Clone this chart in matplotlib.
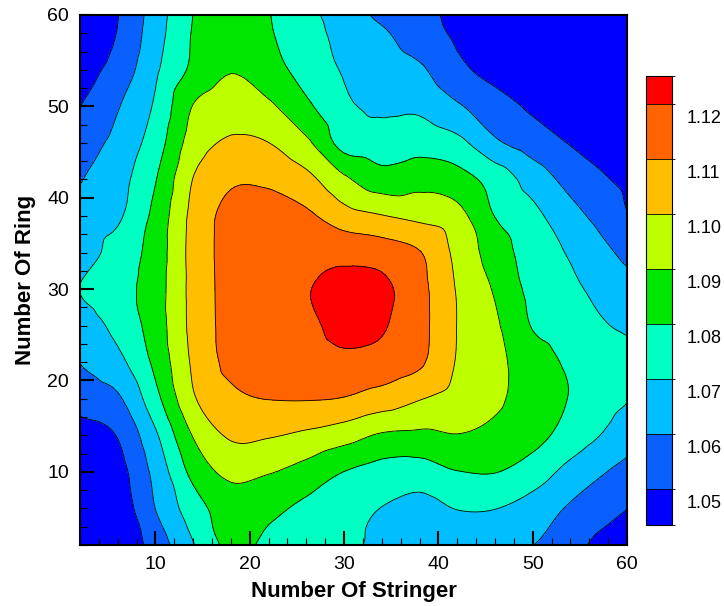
import numpy as np
import matplotlib
matplotlib.use("Agg")
import matplotlib.pyplot as plt
import matplotlib.tri as mtri
from matplotlib.colors import ListedColormap, BoundaryNorm
from matplotlib.ticker import MultipleLocator
import matplotlib.transforms as mtransforms

plt.rcParams['font.family'] = ['Liberation Sans', 'DejaVu Sans']

# grid of the design space
stringers = [2, 6, 10, 14, 18, 22, 26, 30, 34, 38, 42, 46, 50, 54, 58, 60]
rings = [2, 6, 10, 14, 18, 22, 26, 30, 34, 38, 42, 46, 50, 54, 58, 60]

# values, one list per ring count (bottom to top)
ring_02 = [1.038, 1.043, 1.0541, 1.0694, 1.0825, 1.0777, 1.0746, 1.0714, 1.0688, 1.0666, 1.0645, 1.0623, 1.0602, 1.0531, 1.0465, 1.045]
ring_06 = [1.040, 1.044, 1.0601, 1.0753, 1.0845, 1.0823, 1.0778, 1.0738, 1.0698, 1.0668, 1.0703, 1.0702, 1.0659, 1.0587, 1.0529, 1.0502]
ring_10 = [1.043, 1.0465, 1.0630, 1.0829, 1.0925, 1.0906, 1.0862, 1.0799, 1.0761, 1.0754, 1.0797, 1.0803, 1.0751, 1.0668, 1.0598, 1.0575]
ring_14 = [1.0465, 1.0505, 1.0685, 1.0906, 1.1013, 1.1008, 1.0981, 1.0942, 1.0889, 1.0880, 1.0897, 1.0874, 1.0835, 1.0757, 1.0683, 1.0635]
ring_18 = [1.0537, 1.0585, 1.0769, 1.0988, 1.1075, 1.1102, 1.1105, 1.1095, 1.1055, 1.1005, 1.0963, 1.0915, 1.0856, 1.0795, 1.0735, 1.0707]
ring_22 = [1.0603, 1.0672, 1.0824, 1.1015, 1.1125, 1.1145, 1.1160, 1.1178, 1.1165, 1.1115, 1.0993, 1.0925, 1.0847, 1.0785, 1.0752, 1.0735]
ring_26 = [1.0655, 1.0728, 1.0849, 1.1028, 1.1133, 1.1158, 1.1182, 1.1222, 1.1208, 1.1133, 1.0998, 1.0915, 1.0794, 1.0748, 1.0702, 1.0685]
ring_30 = [1.0702, 1.0760, 1.0854, 1.1030, 1.1135, 1.1160, 1.1195, 1.1228, 1.1222, 1.1130, 1.0993, 1.0890, 1.0772, 1.0719, 1.0665, 1.0640]
ring_34 = [1.0650, 1.0740, 1.0845, 1.1033, 1.1135, 1.1150, 1.1165, 1.1172, 1.1155, 1.1105, 1.0974, 1.0853, 1.0754, 1.0690, 1.0613, 1.0575]
ring_38 = [1.0640, 1.0685, 1.0829, 1.1027, 1.1132, 1.1148, 1.1118, 1.1042, 1.1005, 1.0975, 1.0935, 1.0798, 1.0727, 1.0634, 1.0555, 1.0505]
ring_42 = [1.0595, 1.0663, 1.0795, 1.1003, 1.1085, 1.1080, 1.1030, 1.0918, 1.0842, 1.0863, 1.0838, 1.0762, 1.0658, 1.0567, 1.0503, 1.0480]
ring_46 = [1.0555, 1.0630, 1.0751, 1.0945, 1.1013, 1.1001, 1.0919, 1.0763, 1.0743, 1.0762, 1.0729, 1.0617, 1.0552, 1.0495, 1.0465, 1.0450]
ring_50 = [1.0499, 1.0593, 1.0714, 1.0904, 1.0959, 1.0917, 1.0819, 1.0719, 1.0685, 1.0680, 1.0612, 1.0544, 1.0485, 1.0455, 1.0430, 1.0420]
ring_54 = [1.0465, 1.0536, 1.0684, 1.0820, 1.0895, 1.0836, 1.0766, 1.0691, 1.0653, 1.0614, 1.0524, 1.0470, 1.0445, 1.0425, 1.0410, 1.0405]
ring_58 = [1.0430, 1.0504, 1.0657, 1.0807, 1.0880, 1.0810, 1.0736, 1.0670, 1.0614, 1.0547, 1.0485, 1.0455, 1.0435, 1.0420, 1.0410, 1.0400]
ring_60 = [1.0420, 1.0497, 1.0648, 1.0801, 1.0870, 1.0804, 1.0729, 1.0650, 1.0580, 1.0528, 1.0480, 1.0450, 1.0430, 1.0410, 1.0400, 1.0400]

levels = [1.05, 1.06, 1.07, 1.08, 1.09, 1.10, 1.11, 1.12]
level_labels = ['1.05', '1.06', '1.07', '1.08', '1.09', '1.10', '1.11', '1.12']
band_colors = ['#0000FF', '#0A5FFF', '#00BEFF', '#00FFC3', '#00E600',
               '#BEFF00', '#FFBE00', '#FF6400', '#FF0000']

Z = np.array([ring_02, ring_06, ring_10, ring_14, ring_18, ring_22, ring_26, ring_30,
              ring_34, ring_38, ring_42, ring_46, ring_50, ring_54, ring_58, ring_60])
X, Y = np.meshgrid(stringers, rings)

# library-side smoothing of the read grid (cubic refinement of a triangulation)
tri = mtri.Triangulation(X.ravel(), Y.ravel())
refiner = mtri.UniformTriRefiner(tri)
interp = mtri.CubicTriInterpolator(tri, Z.ravel(), kind='geom')
tri_f, z_f = refiner.refine_field(Z.ravel(), triinterpolator=interp, subdiv=3)

fig = plt.figure(figsize=(7.24, 6.06), dpi=100)
ax = fig.add_axes([0.1105, 0.1007, 0.7555, 0.8746])

fill_levels = [0.9] + levels + [1.3]
ax.tricontourf(tri_f, z_f, levels=fill_levels, colors=band_colors)
ax.tricontour(tri_f, z_f, levels=levels, colors='k', linewidths=0.6)

ax.set_xlim(2, 60)
ax.set_ylim(2, 60)
ax.xaxis.set_major_locator(MultipleLocator(10))
ax.yaxis.set_major_locator(MultipleLocator(10))
ax.xaxis.set_minor_locator(MultipleLocator(2))
ax.yaxis.set_minor_locator(MultipleLocator(2))
ax.tick_params(which='major', direction='in', length=10, width=1.5,
               labelsize=14, top=False, right=False, pad=8)
ax.tick_params(which='minor', direction='in', length=5, width=0.8,
               top=False, right=False)
for s in ax.spines.values():
    s.set_linewidth(1.5)
ax.set_xlabel('Number Of Stringer', fontsize=16, fontweight='bold', labelpad=6)
ax.set_ylabel('Number Of Ring', fontsize=16, fontweight='bold', labelpad=8)

# legend bar
cax = fig.add_axes([0.892, 0.134, 0.036, 0.741])
bounds = [1.0435] + levels + [1.1252]
cmap = ListedColormap(band_colors)
norm = BoundaryNorm(bounds, cmap.N)
sm = plt.cm.ScalarMappable(cmap=cmap, norm=norm)
cb = fig.colorbar(sm, cax=cax, boundaries=bounds, spacing='proportional',
                  drawedges=True)
cb.outline.set_linewidth(0.8)
cb.dividers.set_linewidth(0.6)
cax.set_yticks([])
off = mtransforms.ScaledTranslation(0, -14 / 100, fig.dpi_scale_trans)
btrans = mtransforms.blended_transform_factory(cax.transAxes, cax.transData)
for lv, lab in zip(levels, level_labels):
    cax.text(1.55, lv, lab, transform=btrans + off, fontsize=13,
             ha='left', va='center')

fig.savefig('out.png', dpi=100)
